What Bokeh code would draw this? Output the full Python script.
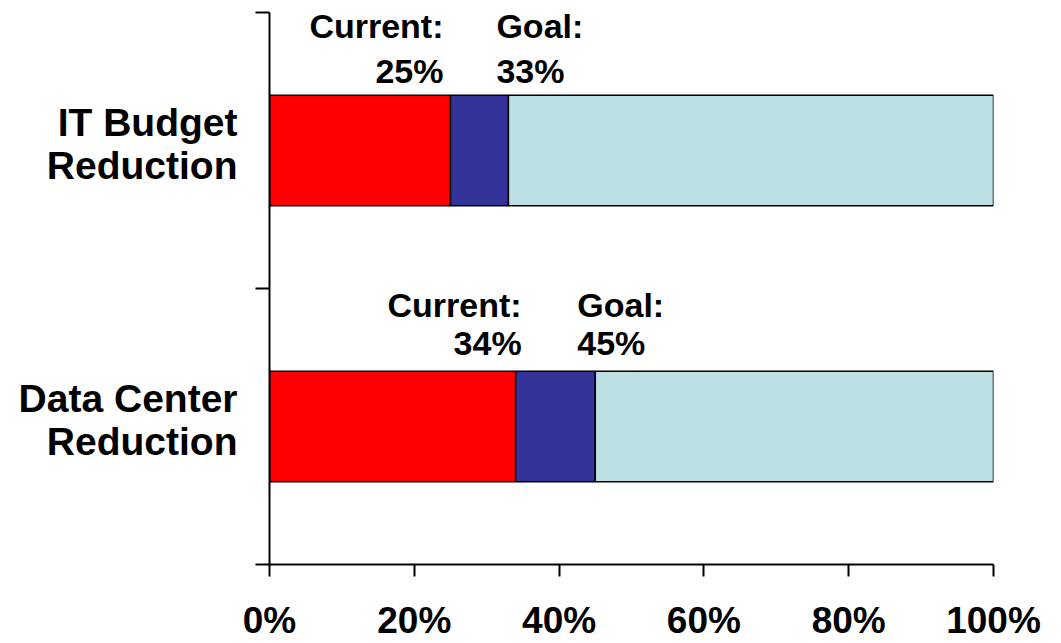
from bokeh.plotting import figure
from bokeh.models import Range1d, FixedTicker, ColumnDataSource
from bokeh.core.properties import value
from bokeh.embed import file_html
from bokeh.resources import INLINE

# ---- data ----
categories = ["IT Budget\nReduction", "Data Center\nReduction"]   # top to bottom
current = [25, 34]
goal = [33, 45]
x_ticks = [0, 20, 40, 60, 80, 100]
x_tick_labels = ["0%", "20%", "40%", "60%", "80%", "100%"]
current_head = ["Current:", "Current:"]
goal_head = ["Goal:", "Goal:"]

# ---- style / placement (screen pixel nudges) ----
cur_dx = [-7, 6]
goal_dx = [-12, -18]
val_dy = [-24, -28]
head_dy = [-69, -66]
label_lift = 0.025   # category label nudge upward (data units)

FONT = "Liberation Sans"
n = len(categories)
ypos = [n - 1 - i for i in range(n)]
bar_h = 0.4

p = figure(width=1050, height=643, output_backend="svg", toolbar_location=None,
           x_range=Range1d(0, 100), y_range=Range1d(-0.5, n - 0.5),
           min_border_left=269, min_border_top=12, min_border_right=57, min_border_bottom=79)
p.outline_line_color = None
p.xgrid.visible = False
p.ygrid.visible = False
p.background_fill_color = "white"
p.border_fill_color = "white"

src = ColumnDataSource(dict(
    y=ypos,
    zero=[0] * n,
    cur=current,
    goal=goal,
    full=[100] * n,
    top=[y + bar_h / 2 for y in ypos],
    cur_lbl=[f"{c}%" for c in current],
    goal_lbl=[f"{g}%" for g in goal],
    cur_head=current_head,
    goal_head=goal_head,
    cur_dx=cur_dx,
    goal_dx=goal_dx,
    val_dy=val_dy,
    head_dy=head_dy,
))

common = dict(height=bar_h, line_color="black", line_width=1.5, source=src)
p.hbar(y="y", left="zero", right="cur", fill_color="#FF0000", **common)
p.hbar(y="y", left="cur", right="goal", fill_color="#333399", **common)
p.hbar(y="y", left="goal", right="full", fill_color="#BBE0E3", **common)

txt = dict(source=src, text_font=value(FONT), text_font_style="bold",
           text_font_size="34px", text_color="black", text_baseline="alphabetic")
p.text(x="cur", y="top", text="cur_lbl", x_offset="cur_dx", y_offset="val_dy", text_align="right", **txt)
p.text(x="cur", y="top", text="cur_head", x_offset="cur_dx", y_offset="head_dy", text_align="right", **txt)
p.text(x="goal", y="top", text="goal_lbl", x_offset="goal_dx", y_offset="val_dy", text_align="left", **txt)
p.text(x="goal", y="top", text="goal_head", x_offset="goal_dx", y_offset="head_dy", text_align="left", **txt)

# x axis
xa = p.xaxis[0]
xa.ticker = FixedTicker(ticks=x_ticks, minor_ticks=[])
xa.major_label_overrides = {t: l for t, l in zip(x_ticks, x_tick_labels)}
xa.major_label_text_font = FONT
xa.major_label_text_font_style = "bold"
xa.major_label_text_font_size = "37px"
xa.major_label_text_color = "black"
xa.major_label_standoff = 23
xa.major_tick_out = 12
xa.major_tick_in = 0
xa.minor_tick_out = 0
xa.axis_line_width = 2
xa.major_tick_line_width = 2
xa.axis_line_color = "black"
xa.major_tick_line_color = "black"

# y axis
ya = p.yaxis[0]
bounds = [i - 0.5 for i in range(n + 1)]
label_ticks = [y + label_lift for y in ypos]
ya.ticker = FixedTicker(ticks=label_ticks, minor_ticks=bounds)
ya.major_label_overrides = {t: c for t, c in zip(label_ticks, categories)}
ya.major_label_text_font = FONT
ya.major_label_text_font_style = "bold"
ya.major_label_text_font_size = "39px"
ya.major_label_text_color = "black"
ya.major_label_text_line_height = 1.0
ya.major_label_text_align = "center"
ya.major_label_standoff = 18
ya.major_tick_out = 0
ya.major_tick_in = 0
ya.minor_tick_out = 14
ya.minor_tick_in = 0
ya.minor_tick_line_width = 2
ya.minor_tick_line_color = "black"
ya.axis_line_width = 2
ya.axis_line_color = "black"

open("out.html", "w").write(file_html(p, INLINE))
